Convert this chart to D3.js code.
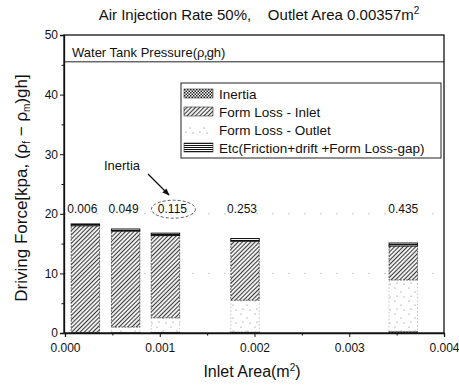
<!DOCTYPE html>
<html>
<head>
<meta charset="utf-8">
<script src="https://cdn.jsdelivr.net/npm/d3@7"></script>
<style>
  body { margin: 0; background: #fff; }
  text { font-family: "Liberation Sans", Arial, sans-serif; fill: #111; }
</style>
</head>
<body>
<svg width="459" height="385"></svg>
<script>
// values (kPa)
const ratioLabels = ["0.006", "0.049", "0.115", "0.253", "0.435"];
const inletArea = [0.000215, 0.00064, 0.00106, 0.0019, 0.00357];
const inertia = [0.05, 0.1, 0.15, 0.2, 0.3];
const formLossOutlet = [0.05, 0.9, 2.4, 5.3, 8.6];
const formLossInlet = [17.9, 16.1, 13.8, 9.9, 5.7];
const etcLoss = [0.3, 0.35, 0.4, 0.45, 0.5];
const waterTankPressure = 45.5;
const xTicks = [0, 0.001, 0.002, 0.003, 0.004];
const yTicks = [0, 10, 20, 30, 40, 50];
const seriesNames = ["Inertia", "Form Loss - Inlet", "Form Loss - Outlet", "Etc(Friction+drift +Form Loss-gap)"];

const svg = d3.select("svg");
const plotL = 64, plotR = 444, plotT = 35, plotB = 333;

const x = d3.scaleLinear().domain([0, 0.004]).range([plotL + 1, plotR]);
const y = d3.scaleLinear().domain([0, 50]).range([plotB, plotT]);
const barW = x(0.0003) - x(0);

// patterns
const defs = svg.append("defs");
const pInertia = defs.append("pattern").attr("id", "pInertia")
    .attr("width", 3).attr("height", 3).attr("patternUnits", "userSpaceOnUse");
pInertia.append("rect").attr("width", 3).attr("height", 3).attr("fill", "#fff");
pInertia.append("rect").attr("width", 1.5).attr("height", 1.5).attr("fill", "#222");
pInertia.append("rect").attr("x", 1.5).attr("y", 1.5).attr("width", 1.5).attr("height", 1.5).attr("fill", "#222");

const pInlet = defs.append("pattern").attr("id", "pInlet")
    .attr("width", 3).attr("height", 3).attr("patternUnits", "userSpaceOnUse")
    .attr("patternTransform", "rotate(45)");
pInlet.append("rect").attr("width", 3).attr("height", 3).attr("fill", "#eee");
pInlet.append("line").attr("x1", 0).attr("y1", 0).attr("x2", 0).attr("y2", 3)
    .attr("stroke", "#1a1a1a").attr("stroke-width", 1.7);

const pOutlet = defs.append("pattern").attr("id", "pOutlet")
    .attr("width", 14).attr("height", 13).attr("patternUnits", "userSpaceOnUse");
pOutlet.append("rect").attr("width", 14).attr("height", 13).attr("fill", "#fff");
[[3, 2], [9, 6], [5, 10], [12, 11]].forEach(function (p) {
    pOutlet.append("circle").attr("cx", p[0]).attr("cy", p[1]).attr("r", 0.6).attr("fill", "#777");
});

const pEtc = defs.append("pattern").attr("id", "pEtc")
    .attr("width", 4).attr("height", 2).attr("patternUnits", "userSpaceOnUse");
pEtc.append("rect").attr("width", 4).attr("height", 2).attr("fill", "#fff");
pEtc.append("rect").attr("width", 4).attr("height", 1).attr("fill", "#111");

const fills = ["url(#pInertia)", "url(#pInlet)", "url(#pOutlet)", "url(#pEtc)"];

// faint dotted grid lines
svg.append("g").selectAll("line")
    .data([10, 20])
    .enter().append("line")
    .attr("x1", plotL).attr("x2", plotR)
    .attr("y1", function (d) { return y(d); })
    .attr("y2", function (d) { return y(d); })
    .attr("stroke", "#bbb").attr("stroke-width", 0.8)
    .attr("stroke-dasharray", "2,14");

// stacked bars: inertia, outlet, inlet, etc (bottom to top)
const rows = inletArea.map(function (a, i) {
    return { area: a, inertia: inertia[i], outlet: formLossOutlet[i], inlet: formLossInlet[i], etc: etcLoss[i] };
});
const keys = ["inertia", "outlet", "inlet", "etc"];
const keyFill = { inertia: fills[0], outlet: fills[2], inlet: fills[1], etc: fills[3] };
const keyStroke = { inertia: "#222", outlet: "#aaa", inlet: "#333", etc: "#111" };
const stacked = d3.stack().keys(keys)(rows);

svg.append("g").selectAll("g")
    .data(stacked)
    .enter().append("g")
    .each(function (s) {
        d3.select(this).selectAll("rect")
            .data(s)
            .enter().append("rect")
            .attr("x", function (d) { return x(d.data.area) - barW / 2; })
            .attr("width", barW)
            .attr("y", function (d) { return y(d[1]); })
            .attr("height", function (d) { return Math.max(0.8, y(d[0]) - y(d[1])); })
            .attr("fill", keyFill[s.key])
            .attr("stroke", keyStroke[s.key])
            .attr("stroke-width", s.key === "etc" ? 1 : 0.7)
            .attr("stroke-dasharray", s.key === "outlet" ? "1.5,2" : (s.key === "inlet" ? "2,1" : null));
    });

// ratio labels over bars
const labelOffset = [0, 1, 10, 0, 3];
svg.append("g").selectAll("text")
    .data(ratioLabels)
    .enter().append("text")
    .attr("x", function (d, i) { return x(inletArea[i]) + labelOffset[i] - 3; })
    .attr("y", y(20.1))
    .attr("text-anchor", "middle")
    .attr("font-size", 12)
    .text(function (d) { return d; });

// dashed ellipse round 0.115 and the Inertia note
svg.append("ellipse")
    .attr("cx", x(inletArea[2]) + 8).attr("cy", y(20.1) - 4)
    .attr("rx", 22).attr("ry", 9)
    .attr("fill", "none").attr("stroke", "#333").attr("stroke-width", 0.8)
    .attr("stroke-dasharray", "3,2");
svg.append("text")
    .attr("x", 122).attr("y", 170)
    .attr("text-anchor", "middle").attr("font-size", 13)
    .text("Inertia");
defs.append("marker").attr("id", "arrow")
    .attr("viewBox", "0 0 10 10").attr("refX", 9).attr("refY", 5)
    .attr("markerWidth", 6).attr("markerHeight", 6).attr("orient", "auto")
    .append("path").attr("d", "M0,1 L10,5 L0,9 Z").attr("fill", "#111");
svg.append("line")
    .attr("x1", 148).attr("y1", 174).attr("x2", 169).attr("y2", 195)
    .attr("stroke", "#111").attr("stroke-width", 1.2)
    .attr("marker-end", "url(#arrow)");

// water tank pressure band
svg.append("line")
    .attr("x1", plotL).attr("x2", plotR)
    .attr("y1", y(waterTankPressure)).attr("y2", y(waterTankPressure))
    .attr("stroke", "#222").attr("stroke-width", 1);
const wt = svg.append("text").attr("x", 72).attr("y", 57).attr("font-size", 13);
wt.append("tspan").text("Water Tank Pressure(ρ");
wt.append("tspan").attr("font-size", 8).attr("dy", 3).text("f");
wt.append("tspan").attr("dy", -3).text("gh)");

// legend
const lg = svg.append("g").attr("transform", "translate(181,83)");
lg.append("rect").attr("width", 260).attr("height", 75)
    .attr("fill", "#fff").attr("stroke", "#222").attr("stroke-width", 1);
seriesNames.forEach(function (name, i) {
    const ly = 11 + i * 18;
    lg.append("rect").attr("x", 3).attr("y", ly - 5).attr("width", 29).attr("height", 9)
        .attr("fill", fills[i]).attr("stroke", i === 2 ? "none" : "#333").attr("stroke-width", 0.6);
    lg.append("text").attr("x", 38).attr("y", ly + 5).attr("font-size", 13.5).text(name);
});

// frame
svg.append("rect")
    .attr("x", plotL).attr("y", plotT)
    .attr("width", plotR - plotL).attr("height", plotB - plotT)
    .attr("fill", "none").attr("stroke", "#111").attr("stroke-width", 1.3);

// axes
const xAxis = svg.append("g")
    .attr("transform", "translate(0," + plotB + ")")
    .call(d3.axisBottom(x).tickValues(xTicks).tickFormat(d3.format(".3f")).tickSize(4).tickPadding(6));
svg.append("g")
    .attr("transform", "translate(0," + plotB + ")")
    .call(d3.axisBottom(x).tickValues([0.0005, 0.0015, 0.0025, 0.0035]).tickFormat("").tickSize(2.5))
    .select(".domain").remove();
const yAxis = svg.append("g")
    .attr("transform", "translate(" + plotL + ",0)")
    .call(d3.axisLeft(y).tickValues(yTicks).tickSize(4).tickPadding(2));
svg.append("g")
    .attr("transform", "translate(" + plotL + ",0)")
    .call(d3.axisLeft(y).tickValues([5, 15, 25, 35, 45]).tickFormat("").tickSize(2.5))
    .select(".domain").remove();
svg.selectAll(".tick text").attr("font-size", 12).attr("font-family", "Liberation Sans, Arial, sans-serif").attr("fill", "#111");
svg.selectAll(".tick line").attr("stroke", "#111");
xAxis.select(".domain").attr("stroke", "#111").attr("stroke-width", 1.3);
yAxis.select(".domain").attr("stroke", "#111").attr("stroke-width", 1.3);

// titles
const title = svg.append("text").attr("x", 259).attr("y", 20)
    .attr("text-anchor", "middle").attr("font-size", 15)
    .style("white-space", "pre");
title.append("tspan").text("Air Injection Rate 50%,    Outlet Area 0.00357m");
title.append("tspan").attr("font-size", 10).attr("dy", -6).text("2");

const xt = svg.append("text").attr("x", 252).attr("y", 377)
    .attr("text-anchor", "middle").attr("font-size", 16);
xt.append("tspan").text("Inlet Area(m");
xt.append("tspan").attr("font-size", 10).attr("dy", -6).text("2");
xt.append("tspan").attr("dy", 6).text(")");

const yt = svg.append("text")
    .attr("transform", "translate(27,188) rotate(-90)")
    .attr("text-anchor", "middle").attr("font-size", 17);
yt.append("tspan").text("Driving Force[kpa, (ρ");
yt.append("tspan").attr("font-size", 10).attr("dy", 3).text("f");
yt.append("tspan").attr("dy", -3).text(" − ρ");
yt.append("tspan").attr("font-size", 10).attr("dy", 3).text("m");
yt.append("tspan").attr("dy", -3).text(")gh]");
</script>
</body>
</html>
